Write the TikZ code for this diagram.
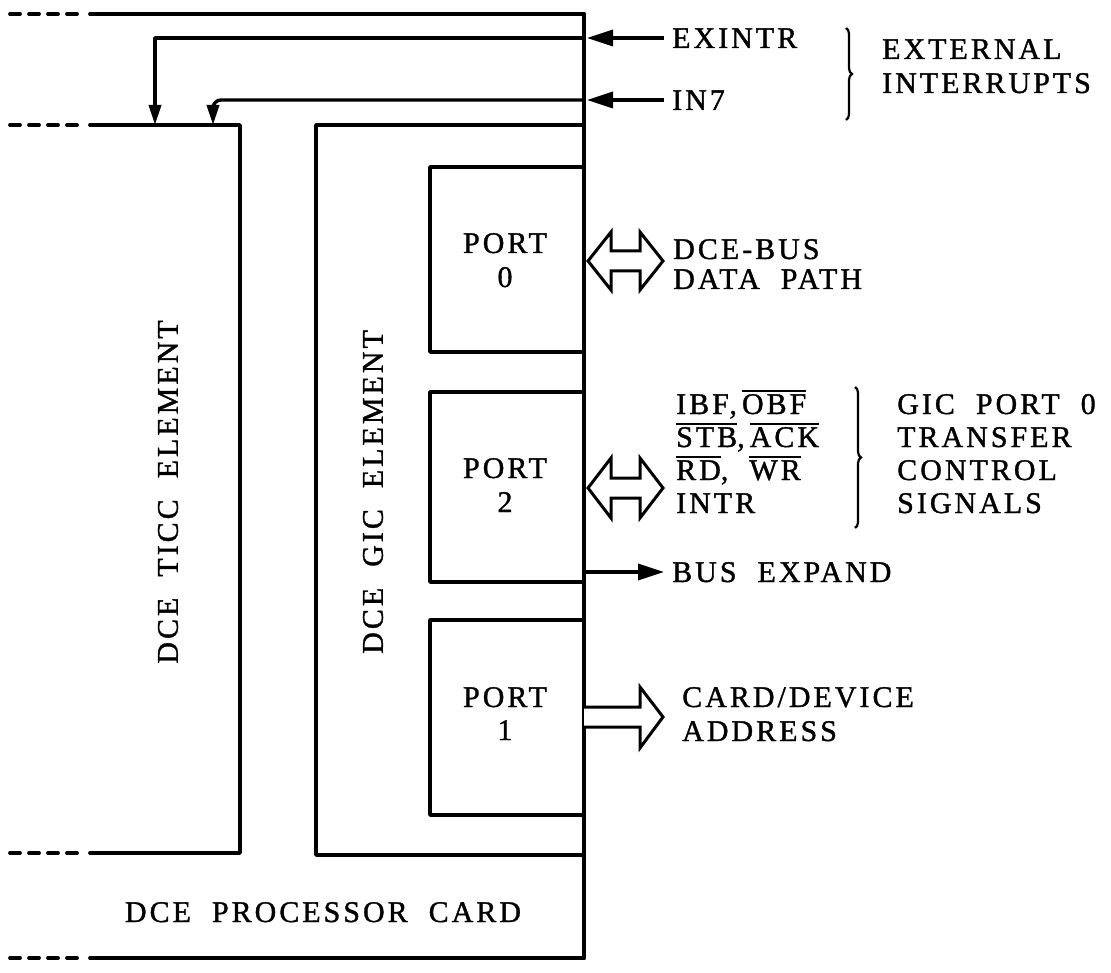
\documentclass[tikz,border=0pt]{standalone}
\usepackage{fontspec}
\setmainfont{Liberation Serif}
\newfontfamily\labfont{Liberation Serif}[LetterSpace=10,WordSpace=2,FakeBold=1.2]
\usetikzlibrary{arrows.meta,decorations.pathreplacing}
\newcommand\ovl[1]{\leavevmode\vbox{\hrule height 1.8pt\kern 2.4pt\hbox{#1}}}
\tikzset{
  lab/.style={font=\labfont\fontsize{30}{33}\selectfont, inner sep=0pt, anchor=base west},
  labc/.style={font=\labfont\fontsize{30}{33}\selectfont, inner sep=0pt, anchor=base},
  rot/.style={font=\labfont\fontsize{30}{33}\selectfont, inner sep=0pt, anchor=center, rotate=90},
  heavy/.style={line width=3.8pt, line cap=round, line join=round},
  wire/.style={line width=3.4pt, line join=round},
  dashpart/.style={line width=3.8pt, line cap=round, dash pattern=on 10pt off 9pt},
  intip/.style={-{Triangle[length=26pt,width=16pt]}},
  downtip/.style={-{Triangle[length=20pt,width=12pt]}},
  hollow/.style={line width=3pt, line join=miter, fill=white},
  bracket/.style={line width=2.2pt, decorate, decoration={brace, amplitude=6pt}}
}
\begin{document}
\begin{tikzpicture}[x=1pt,y=-1pt]
\useasboundingbox (0,0) rectangle (1111,973);
% frame lines
\coordinate (mtop) at (584,14);
\coordinate (mbot) at (584,958);
\draw[heavy] (mtop) -- (mbot);
\draw[heavy] (90,14) -- (mtop);
\draw[dashpart] (10,14) -- (80,14);
\draw[heavy] (90,958) -- (mbot);
\draw[dashpart] (10,958) -- (80,958);
% TICC element
\draw[heavy] (90,125) -- (240,125) -- (240,853) -- (90,853);
\draw[dashpart] (10,125) -- (80,125);
\draw[dashpart] (10,853) -- (80,853);
% GIC element
\draw[heavy] (584,125) -- (316,125) -- (316,855) -- (584,855);
% ports
\draw[heavy] (584,167) -- (430,167) -- (430,352) -- (584,352);
\draw[heavy] (584,392) -- (430,392) -- (430,582) -- (584,582);
\draw[heavy] (584,620) -- (430,620) -- (430,815) -- (584,815);
\node[labc] (p0a) at (505,253) {PORT};
\node[labc] (p0b) at (505,287) {0};
\node[labc] (p2a) at (505,478) {PORT};
\node[labc] (p2b) at (505,512) {2};
\node[labc] (p1a) at (505,707) {PORT};
\node[labc] (p1b) at (505,740) {1};
\node[rot] (ticc) at (168,492) {DCE TICC ELEMENT};
\node[rot] (gic) at (373,492) {DCE GIC ELEMENT};
\node[labc] (card) at (323,922) {DCE PROCESSOR CARD};
% external interrupts
\coordinate (exin) at (664,38);
\coordinate (exj) at (587,38);
\coordinate (inin) at (664,100);
\coordinate (inj) at (587,100);
\coordinate (ticctopA) at (155,125);
\coordinate (ticctopB) at (213,125);
\draw[wire,intip] (exin) -- (exj);
\draw[wire,intip] (inin) -- (inj);
\draw[wire,downtip] (584,38) -- (155,38) -- (ticctopA);
\draw[wire,downtip,rounded corners=8pt] (584,100) -- (213,100) -- (ticctopB);
\node[lab] (exintr) at (672,48) {EXINTR};
\node[lab] (in7) at (672,110) {IN7};
\draw[bracket] (846,28) -- (846,120);
\node[lab] (ext1) at (882,59) {EXTERNAL};
\node[lab] (ext2) at (882,93) {INTERRUPTS};
% DCE-BUS double arrow
\draw[hollow] (588,261) -- (611,232) -- (611,251) -- (640,251) -- (640,232) -- (663,261)
  -- (640,290) -- (640,271) -- (611,271) -- (611,290) -- cycle;
\node[lab] (bus1) at (673,259) {DCE-BUS};
\node[lab] (bus2) at (673,289) {DATA PATH};
% port 2 double arrow
\draw[hollow] (588,488) -- (611,458) -- (611,478) -- (640,478) -- (640,458) -- (663,488)
  -- (640,518) -- (640,498) -- (611,498) -- (611,518) -- cycle;
\node[lab] (s1) at (676,414) {IBF,\,\ovl{OBF}};
\node[lab] (s2) at (676,447) {\ovl{STB},\,\ovl{ACK}};
\node[lab] (s3) at (676,480) {\ovl{RD}, \ovl{WR}};
\node[lab] (s4) at (676,513) {INTR};
\draw[bracket] (855,387) -- (855,528);
\node[lab] (g1) at (897,414) {GIC PORT 0};
\node[lab] (g2) at (897,447) {TRANSFER};
\node[lab] (g3) at (897,480) {CONTROL};
\node[lab] (g4) at (897,513) {SIGNALS};
% bus expand
\coordinate (bxs) at (584,572);
\coordinate (bxe) at (664,572);
\draw[wire,-{Triangle[length=26pt,width=16pt]}] (bxs) -- (bxe);
\node[lab] (bx) at (672,582) {BUS EXPAND};
% card/device address hollow arrow
\draw[hollow] (584,707) -- (640,707) -- (640,687) -- (663,717) -- (640,748) -- (640,727) -- (584,727);
\node[lab] (cd1) at (682,707) {CARD/DEVICE};
\node[lab] (cd2) at (682,741) {ADDRESS};
\end{tikzpicture}
\end{document}
